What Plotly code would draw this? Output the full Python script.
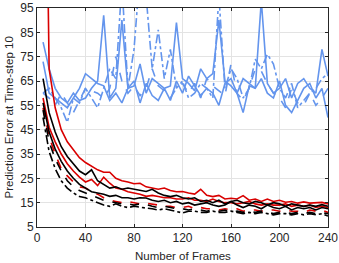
import plotly.graph_objects as go

frames = list(range(5, 241, 5))

red_solid_a = [250, 70, 54, 45, 40, 36.5, 33.5, 31.5, 30, 28.5, 27.5, 27.5, 25, 24, 23.5, 22.8,
               23, 21.5, 21, 20.5, 21, 20, 19.5, 19.6, 19, 18.5, 20.5, 18, 17.5, 18, 16.5, 16.8,
               16.5, 17.9, 16, 16.5, 15.5, 16.5, 15.5, 16, 15.2, 15.5, 14.8, 15.3, 14.8, 15, 15.1, 14.5]
red_solid_b = [58, 46, 40, 35, 31, 28, 25.5, 23.5, 24.5, 22, 25.5, 23, 21, 20.5, 19.5, 19,
               18.5, 17.6, 18, 17.5, 17, 17, 16.5, 16.5, 17, 16, 16, 15.5, 16.5, 15.5, 15, 15,
               14.5, 15, 15.5, 14.5, 14, 14.5, 14, 14, 14.5, 13.5, 14, 13.5, 14, 13, 13.5, 13]
red_dash = [54, 42, 35, 29, 26, 23.5, 21.5, 21, 19.5, 18.5, 17, 16, 15.5, 15, 15.5, 15,
            14.5, 14.8, 14.5, 14, 13.5, 13.5, 13, 13, 13.5, 12.5, 13, 12.5, 12.5, 12, 12.5, 12,
            12.5, 11.5, 12, 12, 11.5, 12, 12, 11.5, 12, 11.5, 11.5, 11, 12, 11.5, 12, 11]

black_solid_a = [66, 52, 44, 38, 34, 31, 28, 26.5, 28.5, 24, 22.5, 21, 21.5, 20.5, 21, 20.5,
                 20, 19.6, 20.5, 19, 18, 17.5, 18, 17, 16.5, 17, 15.5, 16, 15, 16, 14.5, 15.5,
                 16, 15, 14.5, 15.5, 15, 14, 15, 14.5, 13.5, 14.5, 14, 13.5, 14, 13.5, 14.2, 13.5]
black_solid_b = [56, 44, 37, 32, 28, 25, 22.5, 21, 19.5, 19, 18.5, 17.6, 18, 17, 17, 16.5,
                 17, 16.9, 16, 15.5, 16, 15, 15.5, 14.5, 15, 14, 14.5, 15, 14, 13.5, 14, 15.5,
                 14, 13, 14, 13.5, 12.5, 14, 13, 12.5, 13.5, 12, 13, 12.5, 13, 12, 13, 12.5]
black_dash = [53, 40, 33, 28, 24, 21.5, 20, 19, 18, 17, 16, 15.5, 15, 14.5, 14.5, 14,
              14.5, 14.2, 13.5, 13, 13.5, 13, 12.5, 12.5, 12, 12.5, 12, 11.5, 12, 11.5, 12, 11,
              11.5, 11, 11.5, 11, 11.5, 11, 10.5, 11, 11, 10.5, 11, 10.5, 11, 10.5, 10.8, 10.5]
black_dashdot = [50, 36, 29, 24, 21, 19, 17.5, 17, 16, 15, 14, 13.5, 14.5, 13.5, 13, 13.5,
                 13, 12.8, 12.5, 12, 12.5, 12, 11.5, 10.8, 11.5, 11.5, 11, 11, 11.5, 11, 11, 11.5,
                 11, 10.5, 11, 10.5, 11, 10.5, 10, 10.5, 10.5, 10, 10.5, 10, 10.5, 10, 10.5, 9.5]

blue_solid_a = [81, 70, 62, 58, 56, 60, 57, 58, 62, 65, 92, 58, 62, 90, 62, 63,
                72, 60, 66, 64, 62, 63, 89, 66, 64, 61, 70, 66, 68, 90, 65, 63,
                60, 66, 64, 62, 98, 64, 60, 62, 66, 58, 64, 66, 62, 60, 78, 67]
blue_solid_b = [73, 60, 58, 56, 54, 58, 62, 68, 66, 64, 63, 57, 60, 56, 62, 65,
                56, 64, 59, 57, 62, 57, 65, 60, 67, 63, 59, 62, 60, 55, 64, 66,
                60, 52, 63, 62, 66, 60, 58, 65, 55, 52, 57, 62, 64, 58, 62, 50]
blue_dash = [60, 58, 55, 60, 56, 52, 57, 62, 61, 60, 58, 62, 75, 65, 60, 63,
             59, 62, 70, 63, 61, 58, 62, 64, 60, 64, 58, 66, 63, 61, 59, 72,
             60, 57, 62, 70, 69, 64, 60, 58, 54, 62, 56, 55, 60, 55, 58, 62]
blue_dashdot = [60, 62, 58, 54, 48, 58, 56, 62, 58, 54, 62, 70, 66, 105, 62, 78,
                110, 100, 70, 86, 66, 78, 62, 65, 58, 60, 64, 62, 58, 100, 62, 70,
                66, 58, 62, 74, 70, 76, 72, 62, 58, 64, 54, 57, 60, 62, 66, 68]

x_ticks = [0, 40, 80, 120, 160, 200, 240]
y_ticks = [5, 15, 25, 35, 45, 55, 65, 75, 85, 95]

BLUE = "#6495ED"
RED = "#D90000"
BLACK = "#000000"
FONT = "Liberation Sans, Arial"
TXT = "#262626"

series = [
    (blue_solid_a, BLUE, "solid"),
    (blue_solid_b, BLUE, "solid"),
    (blue_dash, BLUE, "dash"),
    (blue_dashdot, BLUE, "dashdot"),
    (red_solid_a, RED, "solid"),
    (red_solid_b, RED, "solid"),
    (red_dash, RED, "dash"),
    (black_solid_a, BLACK, "solid"),
    (black_solid_b, BLACK, "solid"),
    (black_dash, BLACK, "dash"),
    (black_dashdot, BLACK, "dashdot"),
]

fig = go.Figure()
for vals, col, dash in series:
    fig.add_trace(go.Scatter(x=frames, y=vals, mode="lines",
                             line=dict(color=col, width=1.6, dash=dash),
                             showlegend=False))

axis_common = dict(showgrid=True, gridcolor="#E3E3E3", gridwidth=1,
                   showline=True, linecolor="#262626", linewidth=1, mirror="ticks",
                   ticks="inside", ticklen=3, tickcolor="#262626",
                   tickfont=dict(family=FONT, size=12, color=TXT),
                   zeroline=False, automargin=False)

W, H = 339, 263
L, R, T, B = 37, 11, 8, 36
pw, ph = W - L - R, H - T - B

fig.update_layout(
    width=W, height=H,
    margin=dict(l=L, r=R, t=T, b=B),
    paper_bgcolor="white", plot_bgcolor="white",
    xaxis=dict(range=[0, 240], tickvals=x_ticks, **axis_common),
    yaxis=dict(range=[5, 95], tickvals=y_ticks, **axis_common),
    annotations=[
        dict(text="Number of Frames", xref="paper", yref="paper",
             x=0.5, y=(H - B - 256) / ph, xanchor="center", yanchor="middle",
             showarrow=False, font=dict(family=FONT, size=11.5, color=TXT)),
        dict(text="Prediction Error at Time-step 10", xref="paper", yref="paper",
             x=(8 - L) / pw, y=0.5, xanchor="center", yanchor="middle", textangle=-90,
             showarrow=False, font=dict(family=FONT, size=11.5, color=TXT)),
    ],
)

fig.write_html("out.html", config={"displayModeBar": False},
               post_script="document.body.style.margin='0px';document.body.style.overflow='hidden';")
